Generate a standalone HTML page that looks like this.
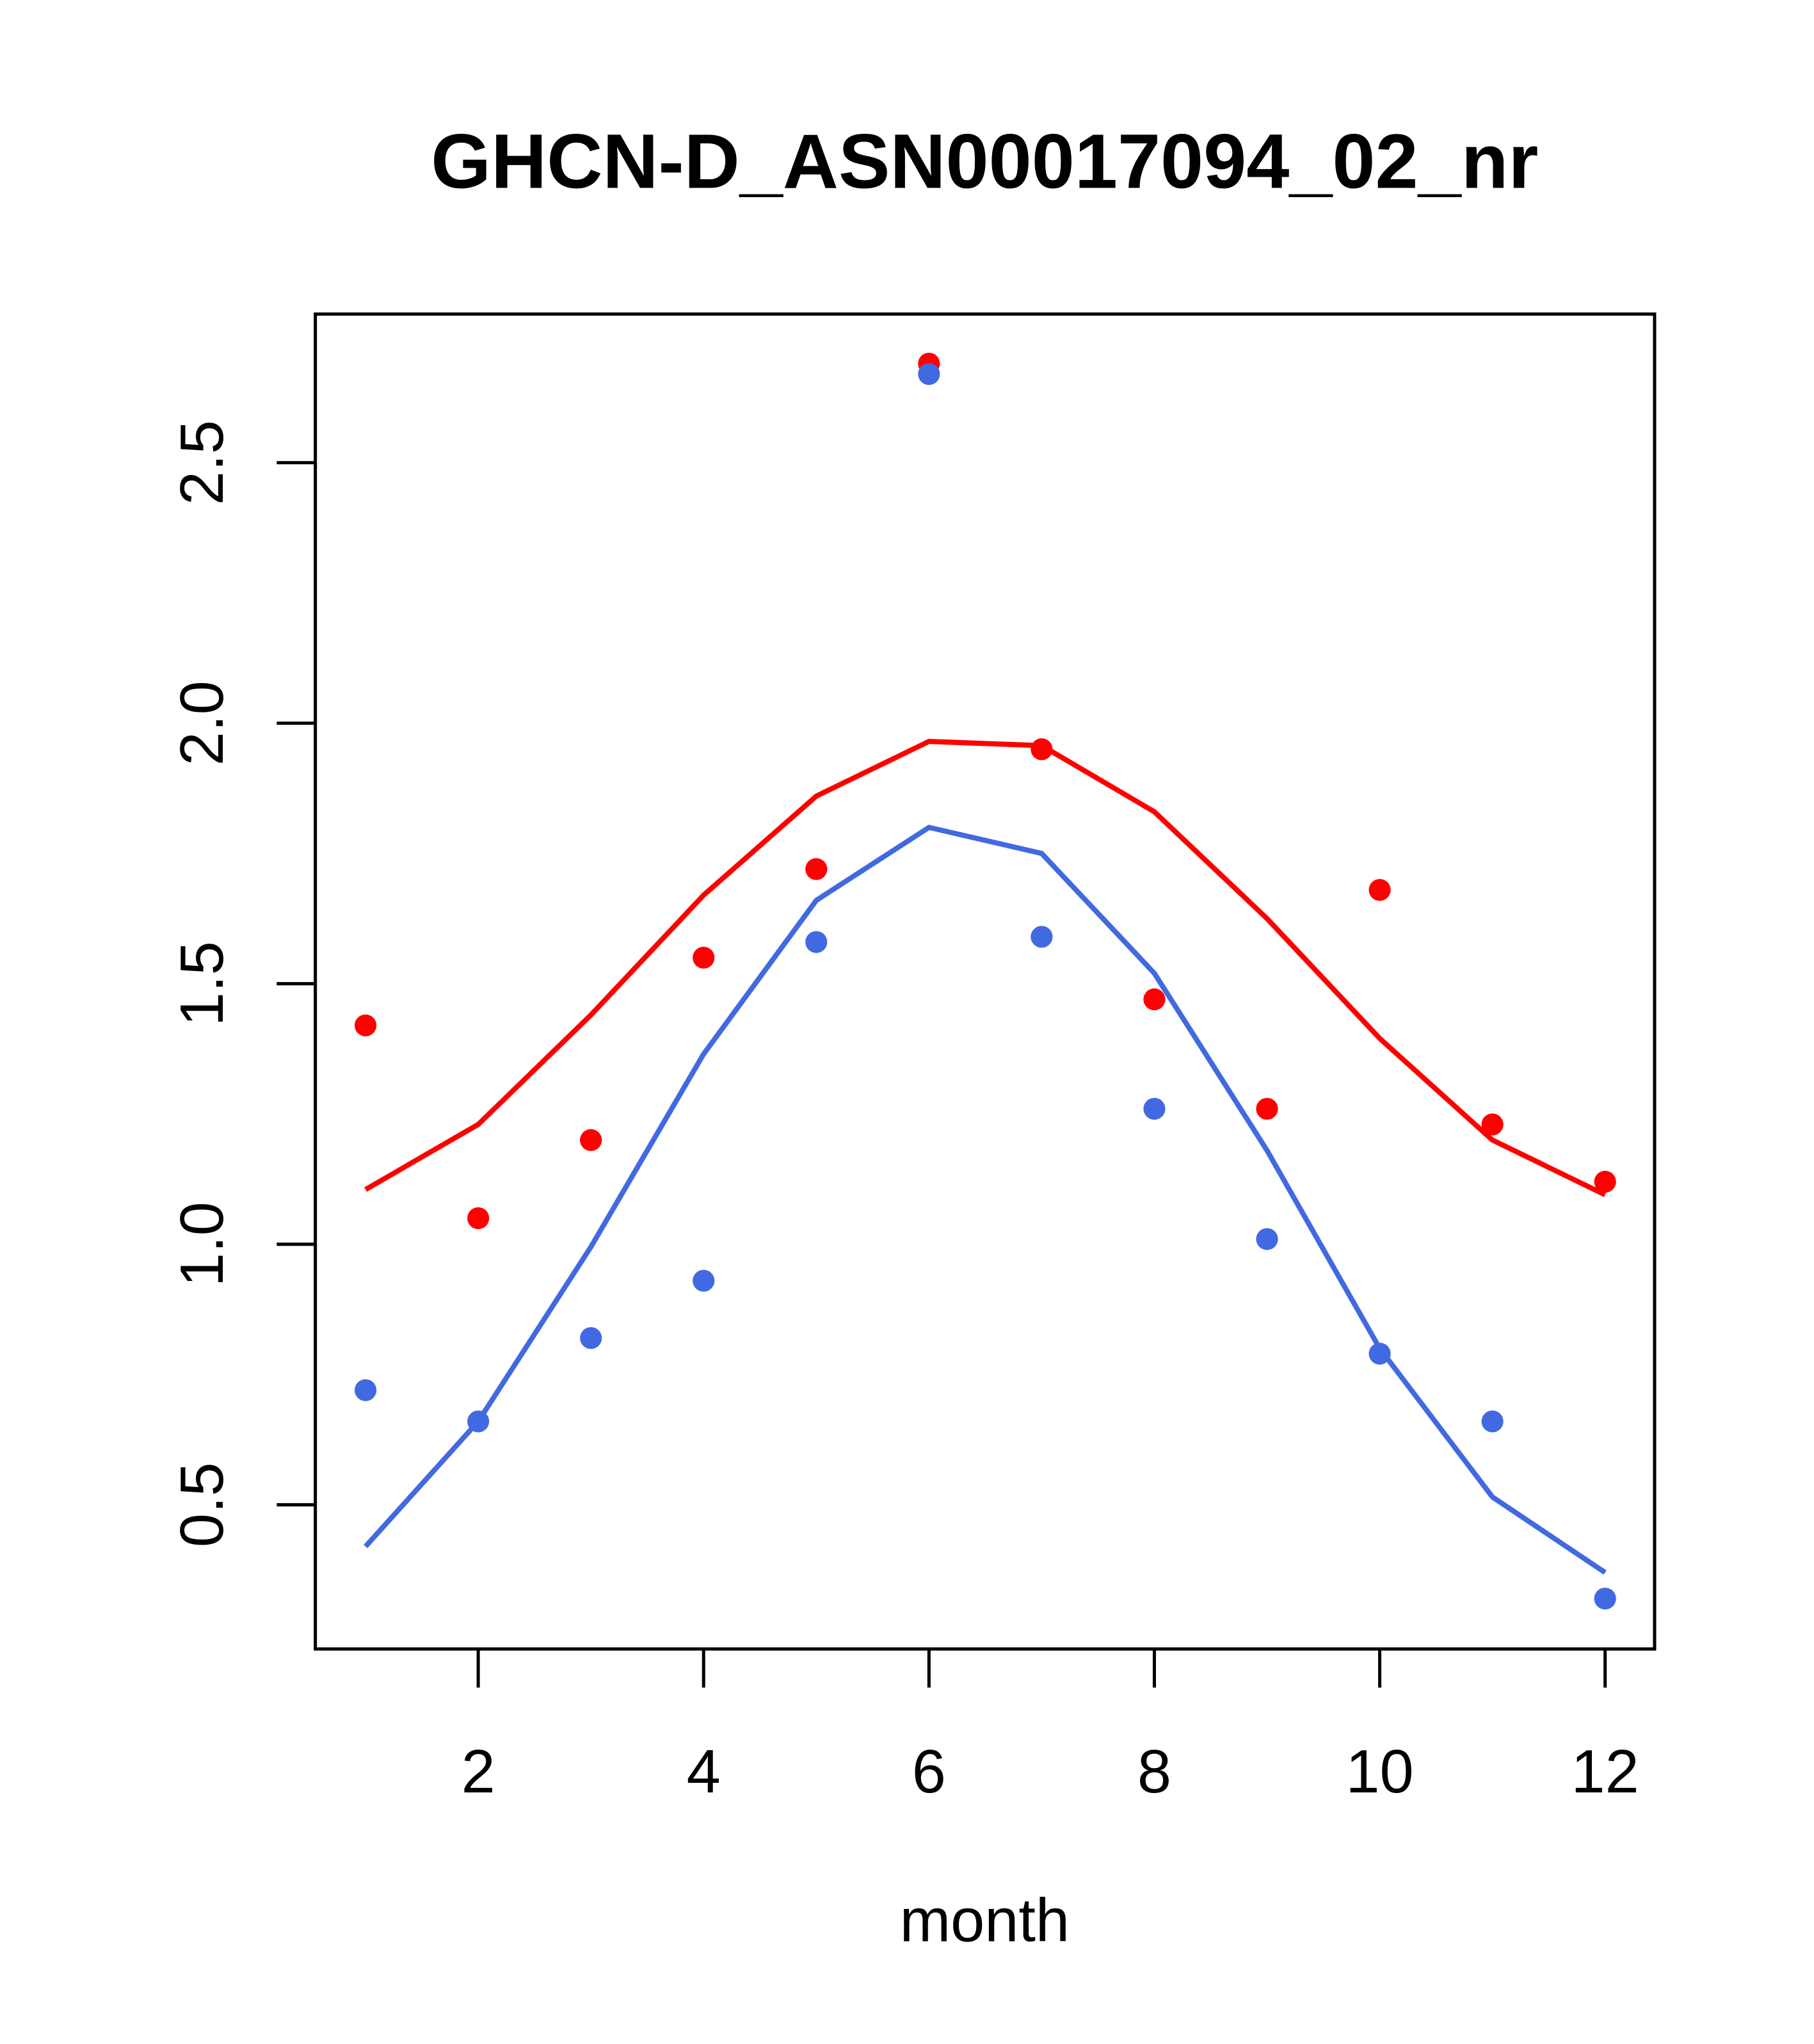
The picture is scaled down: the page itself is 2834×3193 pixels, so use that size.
<!DOCTYPE html>
<html><head><meta charset="utf-8"><style>body{margin:0;background:#fff}</style></head>
<body>
<svg id="chart" width="2834" height="3188" xmlns="http://www.w3.org/2000/svg" font-family="Liberation Sans, sans-serif">
<rect width="2834" height="3188" fill="#fff"/>
<g transform="scale(1.00543)">
<text x="1530" y="292" font-size="120" font-weight="bold" text-anchor="middle">GHCN-D_ASN00017094_02_nr</text>
<rect x="490" y="488" width="2081" height="2074" fill="none" stroke="#000" stroke-width="5"/>
<text x="1530" y="3016" font-size="95" text-anchor="middle">month</text>
<g id="xaxis"></g>
<g id="yaxis"></g>
<g id="series"></g>
</g>
</svg>
<script>
const months=[1,2,3,4,5,6,7,8,9,10,11,12];
const redPoints=[1.42,1.05,1.20,1.55,1.72,2.69,1.95,1.47,1.26,1.68,1.23,1.12];
const bluePoints=[0.72,0.66,0.82,0.93,1.58,2.67,1.59,1.26,1.01,0.79,0.66,0.32];
const redLine=[1.105,1.23,1.44,1.67,1.86,1.965,1.957,1.83,1.625,1.395,1.2,1.095];
const blueLine=[0.42,0.66,0.995,1.365,1.66,1.80,1.75,1.52,1.18,0.80,0.515,0.37];
const xTicks=[2,4,6,8,10,12];
const yTicks=[0.5,1.0,1.5,2.0,2.5];
const yTickLabels=["0.5","1.0","1.5","2.0","2.5"];
const NS="http://www.w3.org/2000/svg";
const xs=m=>568+(m-1)*175.1;
const ys=v=>2338-(v-0.5)*809.6;
function mk(t,a,p){const e=document.createElementNS(NS,t);for(const k in a)e.setAttribute(k,a[k]);p.appendChild(e);return e;}
const xa=document.getElementById('xaxis'),ya=document.getElementById('yaxis'),sg=document.getElementById('series');
xTicks.forEach(t=>{
 const l=mk('line',{x1:xs(t),x2:xs(t),y1:2562,y2:2622,stroke:'#000','stroke-width':5},xa);
 
 
 const tx=mk('text',{x:xs(t),y:2785,'font-size':95,'text-anchor':'middle'},xa);tx.textContent=t;
 
 
});
yTicks.forEach((t,i)=>{
 const l=mk('line',{x1:430,x2:490,y1:ys(t),y2:ys(t),stroke:'#000','stroke-width':5},ya);
 
 
 const tx=mk('text',{x:0,y:0,'font-size':95,'text-anchor':'middle',transform:`translate(346,${ys(t)}) rotate(-90)`},ya);tx.textContent=yTickLabels[i];
 
 
});
function line(vals,c,name){
 const p=mk('polyline',{points:vals.map((v,i)=>xs(months[i])+','+ys(v)).join(' '),fill:'none',stroke:c,'stroke-width':8},sg);
 
 
}
function pts(vals,c,name){
 vals.forEach((v,i)=>{
  const e=mk('circle',{cx:xs(months[i]),cy:ys(v),r:17,fill:c},sg);
  
  
 });
}
line(redLine,'#ff0000','red-line');
line(blueLine,'#4169e1','blue-line');
pts(redPoints,'#ff0000','red-point');
pts(bluePoints,'#4169e1','blue-point');
</script>
</body></html>
